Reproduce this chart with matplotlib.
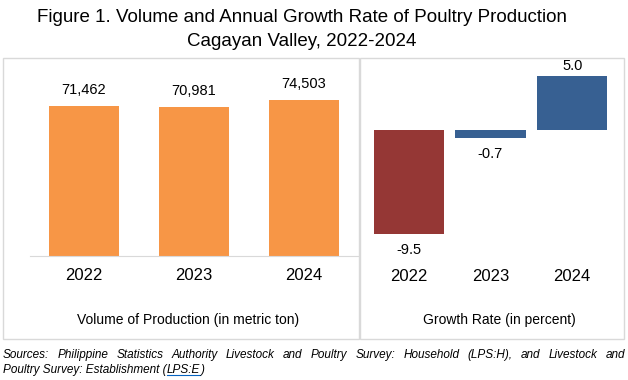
import matplotlib.pyplot as plt
from matplotlib.patches import Rectangle

plt.rcParams['font.family'] = ['Liberation Sans', 'DejaVu Sans']

years = ['2022', '2023', '2024']
volume = [71462, 70981, 74503]
growth = [-9.5, -0.7, 5.0]
growth_colors = ['#953735', '#376092', '#376092']
source_line1 = ('Sources: Philippine Statistics Authority Livestock and Poultry Survey: '
                'Household (LPS:H), and Livestock and')

W, H = 628, 380
fig = plt.figure(figsize=(W / 100, H / 100), dpi=100)
r = fig.canvas.get_renderer()

def fx(px):
    return px / W

def fy(py):
    return 1 - py / H

# title
fig.text(fx(302), fy(18), 'Figure 1. Volume and Annual Growth Rate of Poultry Production',
         ha='center', va='center', fontsize=13.5)
fig.text(fx(302), fy(42), 'Cagayan Valley, 2022-2024', ha='center', va='center', fontsize=13.5)

# panel frames
for x0, x1 in [(3, 359), (360, 624)]:
    fig.add_artist(Rectangle((fx(x0), fy(339)), fx(x1 - x0), (339 - 58) / H,
                             transform=fig.transFigure, fill=False,
                             edgecolor='#d9d9d9', lw=1))

# left panel - volume
ax1 = fig.add_axes([fx(30), fy(256), fx(328), 168 / H])
x = range(len(years))
b1 = ax1.bar(x, volume, width=0.636, color='#F79646')
ax1.set_xlim(-0.49, 2.49)
ax1.set_ylim(0, 80000)
for s in ['top', 'right', 'left']:
    ax1.spines[s].set_visible(False)
ax1.spines['bottom'].set_color('#d9d9d9')
ax1.set_yticks([])
ax1.set_xticks(list(x))
ax1.set_xticklabels(years, fontsize=12)
ax1.tick_params(axis='x', length=0, pad=9)
for rect, v in zip(b1, volume):
    ax1.annotate(f'{v:,}', (rect.get_x() + rect.get_width() / 2, v),
                 xytext=(0, 6.5), textcoords='offset points',
                 ha='center', va='bottom', fontsize=10.5, annotation_clip=False)
fig.text(fx(188), fy(320), 'Volume of Production (in metric ton)',
         ha='center', va='center', fontsize=10)

# right panel - growth rate
ax2 = fig.add_axes([fx(368), fy(261), fx(245), 196.2 / H])
b2 = ax2.bar(x, growth, width=0.86, color=growth_colors)
ax2.set_xlim(-0.5, 2.5)
ax2.set_ylim(-12, 6)
for s in ax2.spines.values():
    s.set_visible(False)
ax2.set_yticks([])
ax2.set_xticks(list(x))
ax2.set_xticklabels(years, fontsize=12)
ax2.tick_params(axis='x', length=0, pad=6)
for rect, v in zip(b2, growth):
    if v >= 0:
        ax2.annotate(f'{v:.1f}', (rect.get_x() + rect.get_width() / 2, v),
                     xytext=(0, 2), textcoords='offset points',
                     ha='center', va='bottom', fontsize=10.5, annotation_clip=False)
    else:
        ax2.annotate(f'{v:.1f}', (rect.get_x() + rect.get_width() / 2, v),
                     xytext=(0, -6.5), textcoords='offset points',
                     ha='center', va='top', fontsize=10.5, annotation_clip=False)
fig.text(fx(499), fy(320), 'Growth Rate (in percent)',
         ha='center', va='center', fontsize=10)

# sources - first line justified like the original
src = dict(fontsize=8.5, style='italic', va='center', ha='left')
words = source_line1.split(' ')
wt = [fig.text(0, fy(355), w, **src) for w in words]
widths = [t.get_window_extent(r).width for t in wt]
gap = (622 - sum(widths)) / (len(words) - 1)
xpos = 3
for t, w in zip(wt, widths):
    t.set_x(fx(xpos))
    xpos += w + gap

t1 = fig.text(fx(3), fy(370), 'Poultry Survey: Establishment (', **src)
bb = t1.get_window_extent(r)
t2 = fig.text(bb.x1 / W, fy(370), 'LPS:E', **src)
bb2 = t2.get_window_extent(r)
fig.text(bb2.x1 / W, fy(370), ')', **src)
fig.add_artist(plt.Line2D([bb2.x0 / W, bb2.x1 / W], [bb2.y0 / H + 0.002] * 2,
                          transform=fig.transFigure, color='#0563C1', lw=0.8))

fig.savefig('out.png', dpi=100)
